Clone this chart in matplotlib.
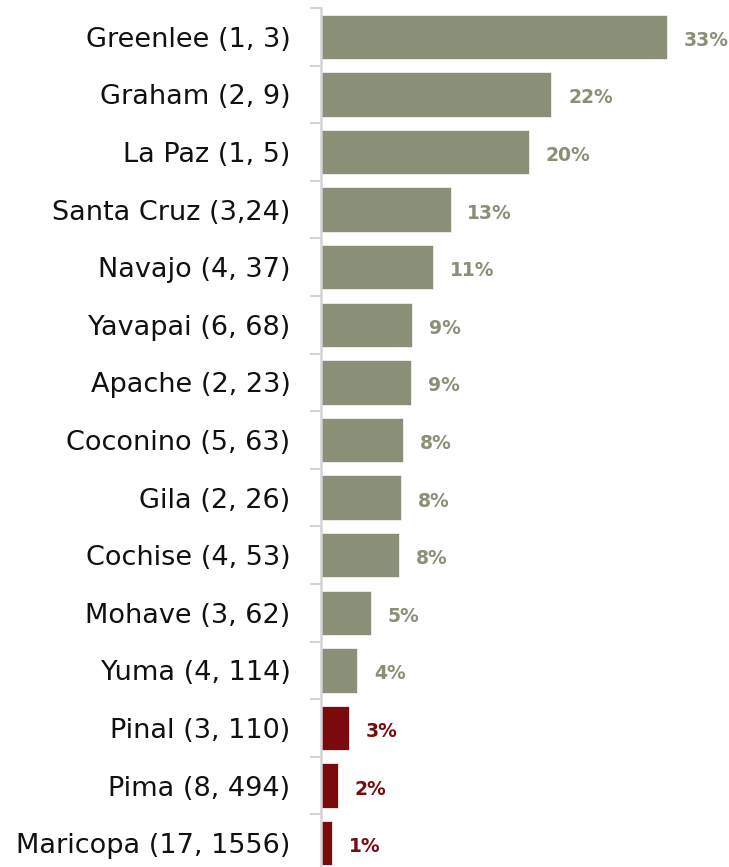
import numpy as np
import matplotlib.pyplot as plt

counties = ["Greenlee (1, 3)", "Graham (2, 9)", "La Paz (1, 5)", "Santa Cruz (3,24)",
            "Navajo (4, 37)", "Yavapai (6, 68)", "Apache (2, 23)", "Coconino (5, 63)",
            "Gila (2, 26)", "Cochise (4, 53)", "Mohave (3, 62)", "Yuma (4, 114)",
            "Pinal (3, 110)", "Pima (8, 494)", "Maricopa (17, 1556)"]
values = [33.3, 22.2, 20.0, 12.5, 10.8, 8.8, 8.7, 7.9, 7.7, 7.5, 4.8, 3.5, 2.7, 1.6, 1.1]
labels = ["33%", "22%", "20%", "13%", "11%", "9%", "9%", "8%", "8%", "8%",
          "5%", "4%", "3%", "2%", "1%"]
highlight = ["Pinal (3, 110)", "Pima (8, 494)", "Maricopa (17, 1556)"]

green = "#8a8f77"
red = "#7a0a0c"
axis_grey = "#d4d4d4"

fig = plt.figure(figsize=(7.29, 8.67), dpi=100)
ax = fig.add_axes([321 / 729, -5 / 867, 1 - 321 / 729, 864 / 867])

y = np.arange(len(counties))
colours = [red if c in highlight else green for c in counties]
ax.barh(y, values, height=0.77, color=colours, edgecolor="#f2f2ee", linewidth=0.6)

for yi, v, lab, col in zip(y, values, labels, colours):
    ax.text(v + 1.6, yi + 0.06, lab, color=col, fontsize=13.5, fontweight="bold",
            family="DejaVu Sans", va="center", ha="left")

ax.set_xlim(0, 39.3)
ax.set_ylim(len(counties) - 0.5, -0.5)
ax.set_yticks(y)
ax.set_yticklabels(counties, fontsize=19.5, family="DejaVu Sans", color="#111111")
ax.set_yticks(np.arange(len(counties)) - 0.5, minor=True)
ax.tick_params(axis="y", which="major", length=0, pad=22)
ax.tick_params(axis="y", which="minor", length=8, width=1.5, color=axis_grey)
ax.set_xticks([])

for s in ["top", "right", "bottom"]:
    ax.spines[s].set_visible(False)
ax.spines["left"].set_color(axis_grey)
ax.spines["left"].set_linewidth(1.8)

fig.savefig("out.png", dpi=100)
